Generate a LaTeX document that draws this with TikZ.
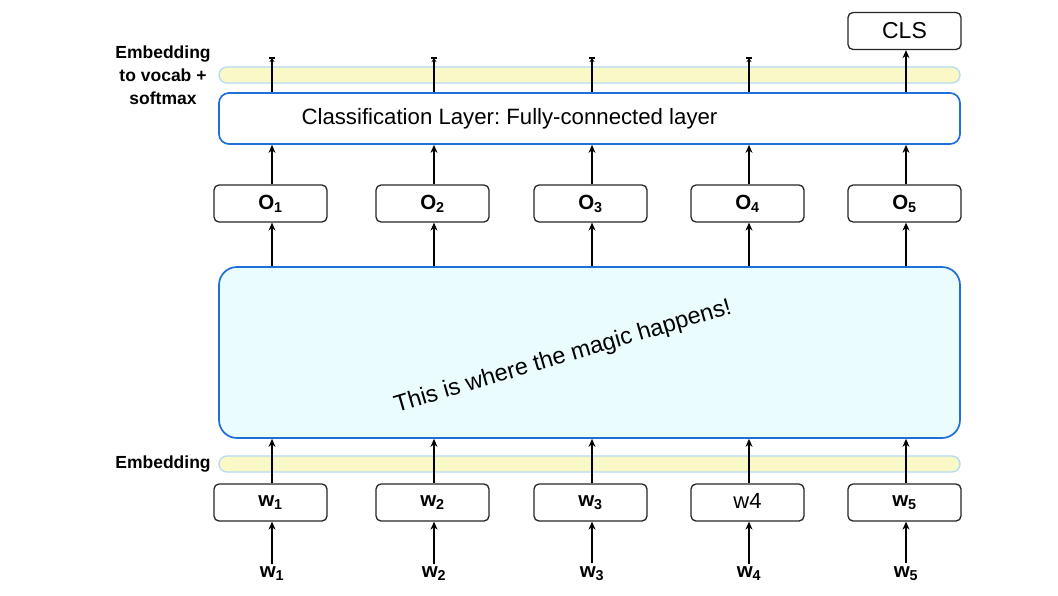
\documentclass[tikz,border=0pt]{standalone}
\usepackage{fontspec}
\setmainfont{Liberation Sans}
\usepackage{xcolor}
\usepackage{tikz}
\usetikzlibrary{arrows.meta}
\frenchspacing

\definecolor{layerblue}{HTML}{1F6FD8}
\definecolor{magicfill}{HTML}{EBFCFE}
\definecolor{bandfill}{HTML}{FBF8C8}
\definecolor{bandline}{HTML}{B4DAF4}

\newcommand{\tokname}[2]{{\bfseries #1}\textsubscript{\bfseries #2}}
\newcommand{\wordbox}[1]{\ifnum#1=4 {\fontsize{22}{24}\selectfont\raisebox{3pt}{w4}}\else\tokname{w}{#1}\fi}

\tikzset{
  tok/.style={draw=black!85, line width=1.3pt, rounded corners=5pt, fill=white,
    minimum width=113pt, minimum height=37pt, inner sep=0pt,
    font=\fontsize{20.5}{22}\selectfont},
  layer/.style={draw=layerblue, line width=1.7pt, fill=white, inner sep=0pt,
    minimum width=741pt},
  band/.style={draw=bandline, fill=bandfill, line width=1.3pt, rounded corners=8pt,
    minimum width=741pt, minimum height=16pt, inner sep=0pt},
  sidelabel/.style={font=\fontsize{17.5}{23}\selectfont\bfseries, align=center},
  up/.style={-{Stealth[length=8pt,width=7pt]}, line width=1.1pt},
  upshort/.style={-{Stealth[length=4pt,width=5pt]}, line width=1.1pt},
}

\begin{document}
\begin{tikzpicture}[x=1pt, y=-1pt]
    \useasboundingbox (0,0) rectangle (1058,595);

    % bands and layers
    \node[band] (top band) at (589.5,75) {};
    \node[layer, rounded corners=10pt, minimum height=51pt,
          font=\fontsize{22.2}{24}\selectfont] (cls layer) at (589.5,118.5)
          {\hspace*{-160pt}\raisebox{-2pt}{Classification Layer: Fully-connected layer}};
    \node[tok, font=\fontsize{23}{25}\selectfont] (cls) at (904.5,31) {CLS};
    \node[layer, fill=magicfill, rounded corners=18pt, minimum height=171pt] (magic)
          at (589.5,352.5) {};
    \node[rotate=16.4, font=\fontsize{23.5}{25}\selectfont] (magic text) at (563,357)
          {This is where the magic happens!};
    \node[band] (emb band) at (589.5,464) {};

    \node[sidelabel] (vocab label) at (163,75) {Embedding\\to vocab +\\softmax};
    \node[sidelabel] (emb label) at (163,464) {Embedding};

    % one column per token
    \foreach \i/\x in {1/270.5, 2/432.5, 3/590.5, 4/747.5, 5/904.5}
      {
        \node[tok] (o\i) at (\x,203.5) {\tokname{O}{\i}};
        \node[tok] (w\i) at (\x,502.5) {\wordbox{\i}};
        \node[font=\fontsize{20.5}{22}\selectfont] (in\i) at (\x+1.5,574) {\tokname{w}{\i}};
        \coordinate (c\i) at (\x+1.5,0);

        \draw[up] (in\i.north) -- (c\i |- w\i.south);
        \draw[up] (c\i |- w\i.north) -- (c\i |- magic.south);
        \draw[up] (c\i |- magic.north) -- (c\i |- o\i.south);
        \draw[up] (c\i |- o\i.north) -- (c\i |- cls layer.south);
      }

    % outputs above the classification layer
    \foreach \i in {1,2,3,4}
      {
        \coordinate (t\i) at (c\i |- 0,58);
        \draw[upshort] (c\i |- cls layer.north) -- (t\i);
        \draw[line width=1.1pt] ([xshift=-3pt]t\i) -- ([xshift=3pt]t\i);
      }
    \draw[up] (c5 |- cls layer.north) -- (c5 |- cls.south);
\end{tikzpicture}
\end{document}
